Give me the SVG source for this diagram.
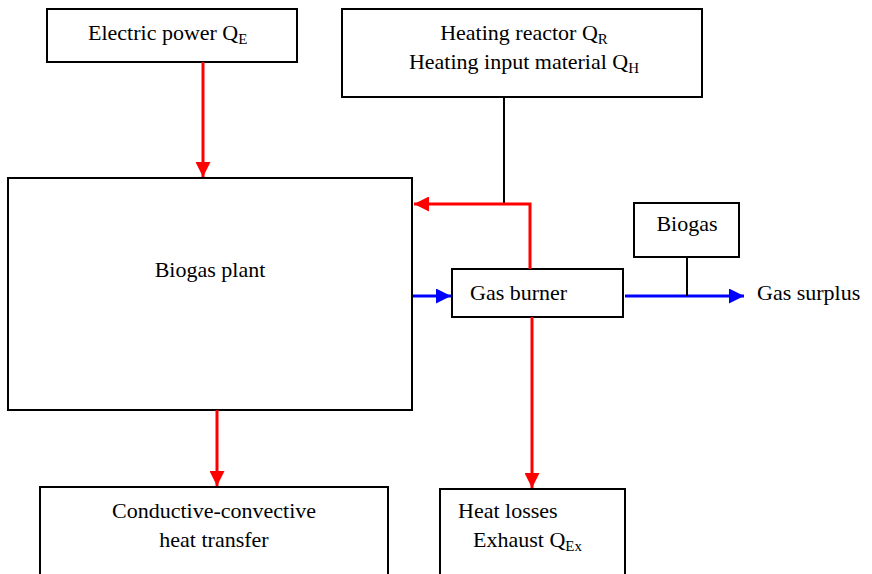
<svg xmlns="http://www.w3.org/2000/svg" width="872" height="574" viewBox="0 0 872 574">
<defs>
<marker id="ar" viewBox="0 0 10 10" refX="10" refY="5" markerWidth="5" markerHeight="5" markerUnits="strokeWidth" orient="auto"><path d="M0,0L10,5L0,10z" fill="#ff0000"/></marker>
<marker id="ab" viewBox="0 0 10 10" refX="10" refY="5" markerWidth="5" markerHeight="5" markerUnits="strokeWidth" orient="auto"><path d="M0,0L10,5L0,10z" fill="#0000ff"/></marker>
</defs>
<g id="electric">
<rect x="47" y="9" width="250" height="53" fill="#fff" stroke="#000" stroke-width="2"/>
<text x="88" y="40" font-family="Liberation Serif, serif" font-size="22">Electric power Q<tspan font-size="15" dy="4">E</tspan></text>
</g>
<g id="reactor">
<rect x="342" y="9" width="360" height="88" fill="#fff" stroke="#000" stroke-width="2"/>
<text x="524" y="40" text-anchor="middle" font-family="Liberation Serif, serif" font-size="22">Heating reactor Q<tspan font-size="15" dy="4">R</tspan></text>
<text x="524" y="69" text-anchor="middle" font-family="Liberation Serif, serif" font-size="22">Heating input material Q<tspan font-size="15" dy="4">H</tspan></text>
</g>
<g id="plant">
<rect x="8" y="178" width="404" height="232" fill="#fff" stroke="#000" stroke-width="2"/>
<text x="210" y="277" text-anchor="middle" font-family="Liberation Serif, serif" font-size="22">Biogas plant</text>
</g>
<g id="burner">
<rect x="452" y="269" width="171" height="48" fill="#fff" stroke="#000" stroke-width="2"/>
<text x="470" y="300" font-family="Liberation Serif, serif" font-size="22">Gas burner</text>
</g>
<g id="biogas">
<rect x="634" y="203" width="105" height="54" fill="#fff" stroke="#000" stroke-width="2"/>
<text x="687" y="231" text-anchor="middle" font-family="Liberation Serif, serif" font-size="22">Biogas</text>
</g>
<g id="surplus">
<text x="757" y="300" font-family="Liberation Serif, serif" font-size="22">Gas surplus</text>
</g>
<g id="conductive">
<rect x="40" y="487" width="348" height="100" fill="#fff" stroke="#000" stroke-width="2"/>
<text x="214" y="518" text-anchor="middle" font-family="Liberation Serif, serif" font-size="22">Conductive-convective</text>
<text x="214" y="547" text-anchor="middle" font-family="Liberation Serif, serif" font-size="22">heat transfer</text>
</g>
<g id="losses">
<rect x="440" y="489" width="185" height="100" fill="#fff" stroke="#000" stroke-width="2"/>
<text x="458" y="518" font-family="Liberation Serif, serif" font-size="22">Heat losses</text>
<text x="473" y="547" font-family="Liberation Serif, serif" font-size="22">Exhaust Q<tspan font-size="15" dy="4">Ex</tspan></text>
</g>
<g id="connectors" fill="none" stroke-width="3">
<line x1="203" y1="62" x2="203" y2="177" stroke="#ff0000" marker-end="url(#ar)"/>
<path d="M504,97V205" stroke="#000" stroke-width="2"/>
<path d="M530,269V204H414" stroke="#ff0000" marker-end="url(#ar)"/>
<line x1="413" y1="296" x2="451" y2="296" stroke="#0000ff" marker-end="url(#ab)"/>
<line x1="625" y1="296" x2="744" y2="296" stroke="#0000ff" marker-end="url(#ab)"/>
<path d="M687,257V296" stroke="#000" stroke-width="2"/>
<line x1="217" y1="410" x2="217" y2="486" stroke="#ff0000" marker-end="url(#ar)"/>
<line x1="532" y1="317" x2="532" y2="488" stroke="#ff0000" marker-end="url(#ar)"/>
</g>
</svg>
